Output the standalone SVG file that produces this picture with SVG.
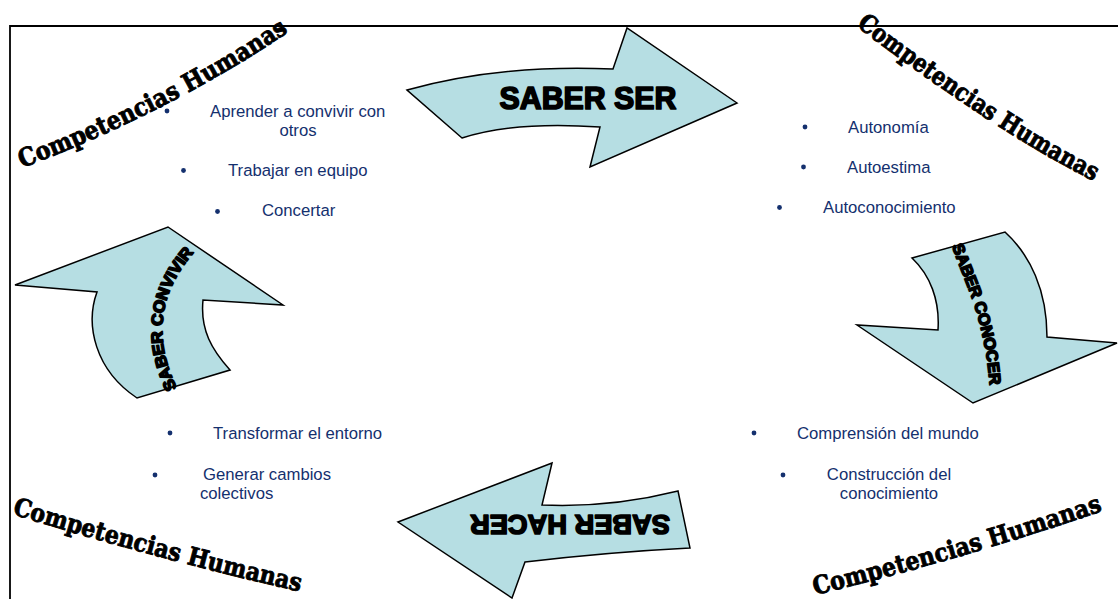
<svg xmlns="http://www.w3.org/2000/svg" width="1118" height="599" viewBox="0 0 1118 599">
<style>
.frame{fill:none;stroke:#000;stroke-width:1.8}
.arrow{fill:#B6DEE3;stroke:#000;stroke-width:1.5;stroke-linejoin:miter}
.alabel{font-family:"Liberation Sans",Arial,sans-serif;font-weight:bold;fill:#000;stroke:#000;stroke-width:1.7;stroke-linejoin:round}
.corner{font-family:"DejaVu Serif","Liberation Serif",serif;font-weight:bold;font-size:25px;fill:#000;stroke:#000;stroke-width:0.9;stroke-linejoin:round}
.item{font-family:"Liberation Sans",Arial,sans-serif;font-size:16.7px;fill:#14306E}
.dot{fill:#14306E}
</style>
<defs>
<path id="p-tl" d="M 22,168 Q 170,112 290,31"/>
<path id="p-tr" d="M 856,26 Q 1000,135 1096,182"/>
<path id="p-bl" d="M 12,514 Q 160,560 302,592"/>
<path id="p-br" d="M 815,595 Q 960,560 1105,510"/>
<path id="p-conv" d="M 177,388 Q 140,312 196,250"/>
<path id="p-cono" d="M 952,246 C 968,290 985,320 990,388"/>
</defs>
<rect width="1118" height="599" fill="#fff"/>
<path class="frame" d="M 10,599 V 26 H 1118"/>

<g id="connectors">
  <g id="arrow-saber-ser">
    <path class="arrow" d="M 407,90 Q 500,64 613,69 L 627,28 L 737,103 L 590,167 L 600,127 Q 515,121 462,138 Z"/>
    <text class="alabel" x="588" y="109" font-size="31" text-anchor="middle" textLength="177" lengthAdjust="spacingAndGlyphs">SABER SER</text>
  </g>
  <g id="arrow-saber-conocer">
    <path class="arrow" d="M 912,258 L 1005,232 C 1030,255 1047,290 1047,337 L 1117,343 L 973,403 L 857,325 L 938,330 C 940,300 930,275 912,258 Z"/>
    <text class="alabel" font-size="16"><textPath href="#p-cono" textLength="145" lengthAdjust="spacingAndGlyphs">SABER CONOCER</textPath></text>
  </g>
  <g id="arrow-saber-hacer">
    <path class="arrow" d="M 552,463 L 542,505 Q 610,508 678,491 L 690,548 Q 610,552 525,562 L 512,598 L 398,522 Z"/>
    <text class="alabel" x="570" y="535" font-size="28" text-anchor="middle" textLength="200" lengthAdjust="spacingAndGlyphs" transform="rotate(180 570 525)">SABER HACER</text>
  </g>
  <g id="arrow-saber-convivir">
    <path class="arrow" d="M 168,227 L 283,305 L 203,300 C 200,330 212,350 230,370 L 137,398 C 95,370 85,325 97,292 L 15,285 Z"/>
    <text class="alabel" font-size="16"><textPath href="#p-conv" textLength="146" lengthAdjust="spacingAndGlyphs">SABER CONVIVIR</textPath></text>
  </g>
</g>

<g id="node-convivir">
  <text class="corner"><textPath href="#p-tl" textLength="300" lengthAdjust="spacingAndGlyphs">Competencias Humanas</textPath></text>
  <circle class="dot" cx="167" cy="111" r="2.4"/>
  <text class="item" x="210" y="117">Aprender a convivir con</text>
  <text class="item" x="298" y="136" text-anchor="middle">otros</text>
  <circle class="dot" cx="183.5" cy="170.5" r="2.4"/>
  <text class="item" x="228" y="176">Trabajar en equipo</text>
  <circle class="dot" cx="217.5" cy="211.5" r="2.4"/>
  <text class="item" x="262" y="216">Concertar</text>
</g>

<g id="node-ser">
  <text class="corner"><textPath href="#p-tr" textLength="284" lengthAdjust="spacingAndGlyphs">Competencias Humanas</textPath></text>
  <circle class="dot" cx="805" cy="127" r="2.4"/>
  <text class="item" x="848" y="132.5">Autonomía</text>
  <circle class="dot" cx="803.5" cy="167" r="2.4"/>
  <text class="item" x="847" y="172.5">Autoestima</text>
  <circle class="dot" cx="779.5" cy="207.5" r="2.4"/>
  <text class="item" x="823" y="213">Autoconocimiento</text>
</g>

<g id="node-conocer">
  <text class="corner"><textPath href="#p-br" textLength="300" lengthAdjust="spacingAndGlyphs">Competencias Humanas</textPath></text>
  <circle class="dot" cx="754" cy="433" r="2.4"/>
  <text class="item" x="797" y="438.5">Comprensión del mundo</text>
  <circle class="dot" cx="783" cy="475" r="2.4"/>
  <text class="item" x="889" y="480" text-anchor="middle">Construcción del</text>
  <text class="item" x="889" y="498.5" text-anchor="middle">conocimiento</text>
</g>

<g id="node-hacer">
  <text class="corner"><textPath href="#p-bl" textLength="298" lengthAdjust="spacingAndGlyphs">Competencias Humanas</textPath></text>
  <circle class="dot" cx="170" cy="433" r="2.4"/>
  <text class="item" x="213" y="438.5">Transformar el entorno</text>
  <circle class="dot" cx="155" cy="475" r="2.4"/>
  <text class="item" x="203" y="480">Generar cambios</text>
  <text class="item" x="200" y="498.5">colectivos</text>
</g>
</svg>
